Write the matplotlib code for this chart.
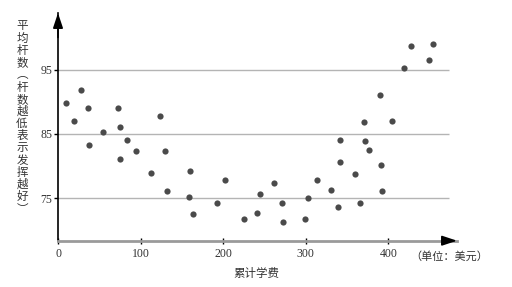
import matplotlib.pyplot as plt

# 累计学费 (美元) vs 平均杆数
tuition = [10, 19, 28, 36, 38, 55, 73, 75, 75, 84, 94, 112, 123, 130, 132,
           160, 159, 164, 193, 202, 225, 241, 244, 262, 271, 272, 299, 303,
           314, 331, 339, 341, 341, 359, 366, 371, 372, 376, 390, 391, 392,
           404, 419, 427, 449, 454]
strokes = [89.8, 87.0, 91.8, 89.0, 83.3, 85.3, 89.0, 86.1, 81.1, 84.0, 82.3,
           78.9, 87.8, 82.3, 76.1, 79.2, 75.2, 72.6, 74.2, 77.8, 71.7, 72.7,
           75.6, 77.3, 74.3, 71.3, 71.8, 75.0, 77.8, 76.3, 73.6, 84.0, 80.6,
           78.7, 74.3, 86.9, 83.9, 82.5, 91.0, 80.2, 76.1, 87.0, 95.2, 98.6,
           96.5, 99.0]
y_ticks = [75, 85, 95]
x_ticks = [0, 100, 200, 300, 400]
y_label = "平均杆数︵杆数越低表示发挥越好︶"

CJK = ["Noto Sans CJK SC", "DejaVu Sans"]
NUM = "Liberation Serif"

fig = plt.figure(figsize=(5.12, 2.87), dpi=100)
ax = fig.add_axes([58 / 512, 1 - 240.7 / 287, 399 / 512, (240.7 - 13) / 287])
ax.set_xlim(0, 483)
ax.set_ylim(68.4, 103.8)

ax.hlines(y_ticks, 0, 473, color="#b4b4b4", lw=1.0, zorder=1)
ax.scatter(tuition, strokes, s=20, color="#4a4a4a", zorder=3, linewidths=0)

for s in ["top", "right"]:
    ax.spines[s].set_visible(False)
ax.spines["left"].set_color("black")
ax.spines["left"].set_linewidth(1.2)
ax.spines["bottom"].set_color("#9a9a9a")
ax.spines["bottom"].set_linewidth(2.0)

# arrow heads
arrow = dict(arrowstyle="-|>,head_length=0.9,head_width=0.3", color="black",
             lw=1.2, shrinkA=0, shrinkB=0)
ax.annotate("", xy=(0, 103.8), xytext=(0, 100), arrowprops=arrow,
            annotation_clip=False)
ax.annotate("", xy=(483, 68.4), xytext=(470, 68.4), arrowprops=arrow,
            annotation_clip=False)

ax.set_xticks(x_ticks)
ax.set_yticks(y_ticks)
ax.tick_params(axis="x", direction="inout", length=5, width=1, color="black",
               pad=3, labelsize=8.5)
ax.tick_params(axis="y", direction="out", length=3, width=1, color="black",
               pad=1, labelsize=8.5)
for lab in ax.get_xticklabels() + ax.get_yticklabels():
    lab.set_fontfamily(NUM)
    lab.set_color("#333333")

fig.text(449 / 512, 1 - 256 / 287, "（单位：美元）", family=CJK, fontsize=8,
         ha="center", va="center", color="#333333")
fig.text(256 / 512, 1 - 274 / 287, "累计学费", family=CJK, fontsize=8.3,
         ha="center", va="center", color="#333333")

# vertical y label, one character per row
for i, ch in enumerate(y_label):
    fig.text(22 / 512, 1 - (26 + i * 12.2) / 287, ch, family=CJK, fontsize=8.3,
             ha="center", va="center", color="#333333")

fig.savefig("out.png", dpi=100)
